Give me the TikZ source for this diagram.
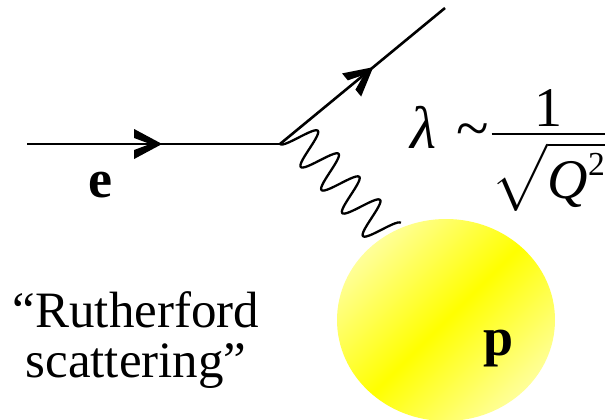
\documentclass[tikz,border=0pt]{standalone}
\usepackage{fontspec}
\setmainfont{Liberation Serif}
\usepackage{amsmath}
\usetikzlibrary{positioning,shapes.geometric,decorations.markings}

\begin{document}
\begin{tikzpicture}[
  x=1pt, y=-1pt,
  every node/.style={align=center, inner sep=0pt},
  fermion/.style={line width=2.6pt, postaction={decorate},
    decoration={markings, mark=at position #1 with {%
      \fill (0,0) -- (-28,15) -- (-28,6) -- (-12,0) -- (-28,-6) -- (-28,-15) -- cycle;}}},
  photon/.style={line width=2.3pt, line join=round},
  lbl/.style={font=\fontsize{54}{54}\selectfont\bfseries},
  txt/.style={font=\fontsize{51}{50}\selectfont},
  eqn/.style={scale=#1},
  proton/.style={ellipse, minimum width=218pt, minimum height=202pt,
    top color=yellow!40!white, bottom color=yellow!40!white,
    middle color=yellow, shading angle=45},
]
\useasboundingbox (0,0) rectangle (608,420);

% --- proton ---
\node[proton] (proton) at (446,320) {};
\node[lbl, anchor=base] (plab) at (499,355) {p};

% --- electron lines ---
\coordinate (ein) at (27,144);
\coordinate (vtx) at (280,144);
\coordinate (eout) at (445,8);
\draw[fermion=0.534] (ein) -- (vtx);
\draw[fermion=0.565] (vtx) -- (eout);
\node[lbl, anchor=base] (elab) at (100,197) {e};

% --- virtual photon, from the vertex down to the proton ---
\draw[photon, shift={(vtx)}, rotate=-48]
  plot[domain=0:139.5, samples=120, smooth] (\x, {-18.5*(1-cos(\x/31*360))});

% --- wavelength ---
\node[eqn=6.0, anchor=base west] (lambda) at (409,148)
  {$\textit{λ}\mkern6mu\text{\textasciitilde}$};
\node[eqn=5.6, anchor=base east] (frac) at (606,148)
  {$\nulldelimiterspace=0pt \scriptspace=0pt
    \dfrac{\raisebox{-3pt}{1}}{\sqrt{\textit{Q}^{\text{\fontsize{6}{6}\selectfont 2}}}}$};

\node[txt, anchor=base] (rfd) at (136,377) {“Rutherford\\scattering”};

\end{tikzpicture}
\end{document}
